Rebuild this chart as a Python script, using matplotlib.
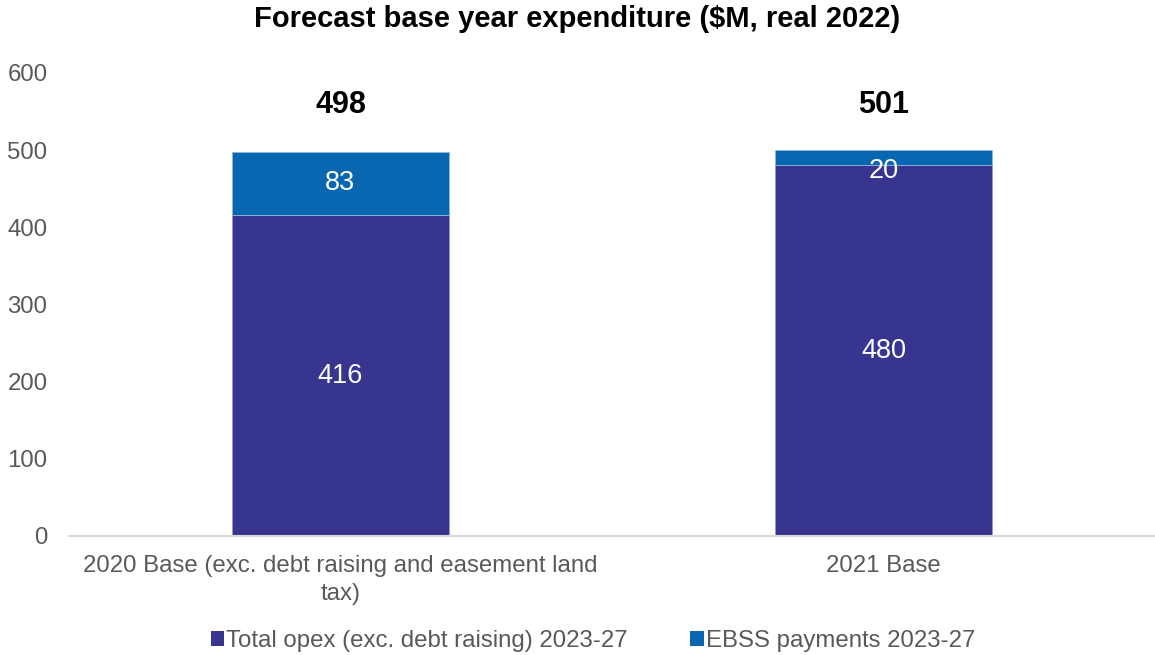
import matplotlib
matplotlib.use("Agg")
import matplotlib.pyplot as plt
from matplotlib.patches import Patch

plt.rcParams['font.family'] = ['Liberation Sans', 'DejaVu Sans']

# Data
categories = ["2020 Base (exc. debt raising and easement land\ntax)", "2021 Base"]
opex = [415.6, 480.4]          # Total opex (exc. debt raising) 2023-27
ebss = [82.6, 20.4]            # EBSS payments 2023-27
series_names = ["Total opex (exc. debt raising) 2023-27", "EBSS payments 2023-27"]
yticks = [0, 100, 200, 300, 400, 500, 600]

col_opex = "#383591"
col_ebss = "#0966B1"
txt_gray = "#595959"
fs = 17.3

fig = plt.figure(figsize=(11.55, 6.55), dpi=100)
ax = fig.add_axes([69 / 1155, 1 - 536 / 655, 1 - 69 / 1155, (536 - 73) / 655])

x = list(range(len(categories)))
w = 0.398
ax.bar(x, opex, width=w, color=col_opex, edgecolor="#8f9bd0", linewidth=0.6, zorder=2)
ax.bar(x, ebss, width=w, bottom=opex, color=col_ebss, edgecolor="#8fb6e0", linewidth=0.6, zorder=2)

ax.set_xlim(-0.5, 1.5)
ax.set_ylim(0, 600)
ax.set_yticks(yticks)
ax.set_yticklabels([str(t) for t in yticks])
ax.set_xticks(x)
ax.set_xticklabels(categories, linespacing=1.3)

for s in ["top", "right", "left"]:
    ax.spines[s].set_visible(False)
ax.spines["bottom"].set_color("#d9d9d9")
ax.spines["bottom"].set_linewidth(1.5)
ax.tick_params(axis="both", length=0, colors=txt_gray, labelsize=fs)
ax.tick_params(axis="y", pad=15.5)
ax.tick_params(axis="x", pad=14)

# segment labels and totals
for i in x:
    ax.text(i, opex[i] / 2, f"{opex[i]:.0f}", ha="center", va="center",
            color="white", fontsize=19.5, zorder=3)
    seg_mid = opex[i] + ebss[i] / 2
    if ebss[i] < 40:
        ax.annotate(f"{ebss[i]:.0f}", (i, seg_mid), xytext=(0, -10), textcoords="offset points",
                    ha="center", va="center", color="white", fontsize=19.5, zorder=3)
    else:
        ax.text(i, seg_mid, f"{ebss[i]:.0f}", ha="center", va="center",
                color="white", fontsize=19.5, zorder=3)
    total = opex[i] + ebss[i]
    ax.text(i, 559, f"{total:.0f}", ha="center", va="center",
            color="black", fontsize=22, fontweight="bold", zorder=3)

fig.text(0.5, 1 - 19 / 655, "Forecast base year expenditure ($M, real 2022)",
         ha="center", va="center", fontsize=21, fontweight="bold", color="black")

handles = [Patch(facecolor=col_opex, edgecolor="none"), Patch(facecolor=col_ebss, edgecolor="none")]
fig.legend(handles, series_names, loc="center", bbox_to_anchor=(593 / 1155, 1 - 641 / 655),
           ncol=2, frameon=False, fontsize=fs, labelcolor=txt_gray,
           handlelength=0.55, handleheight=0.55, handletextpad=0.1, columnspacing=2.6)

fig.savefig("out.png", dpi=100)
